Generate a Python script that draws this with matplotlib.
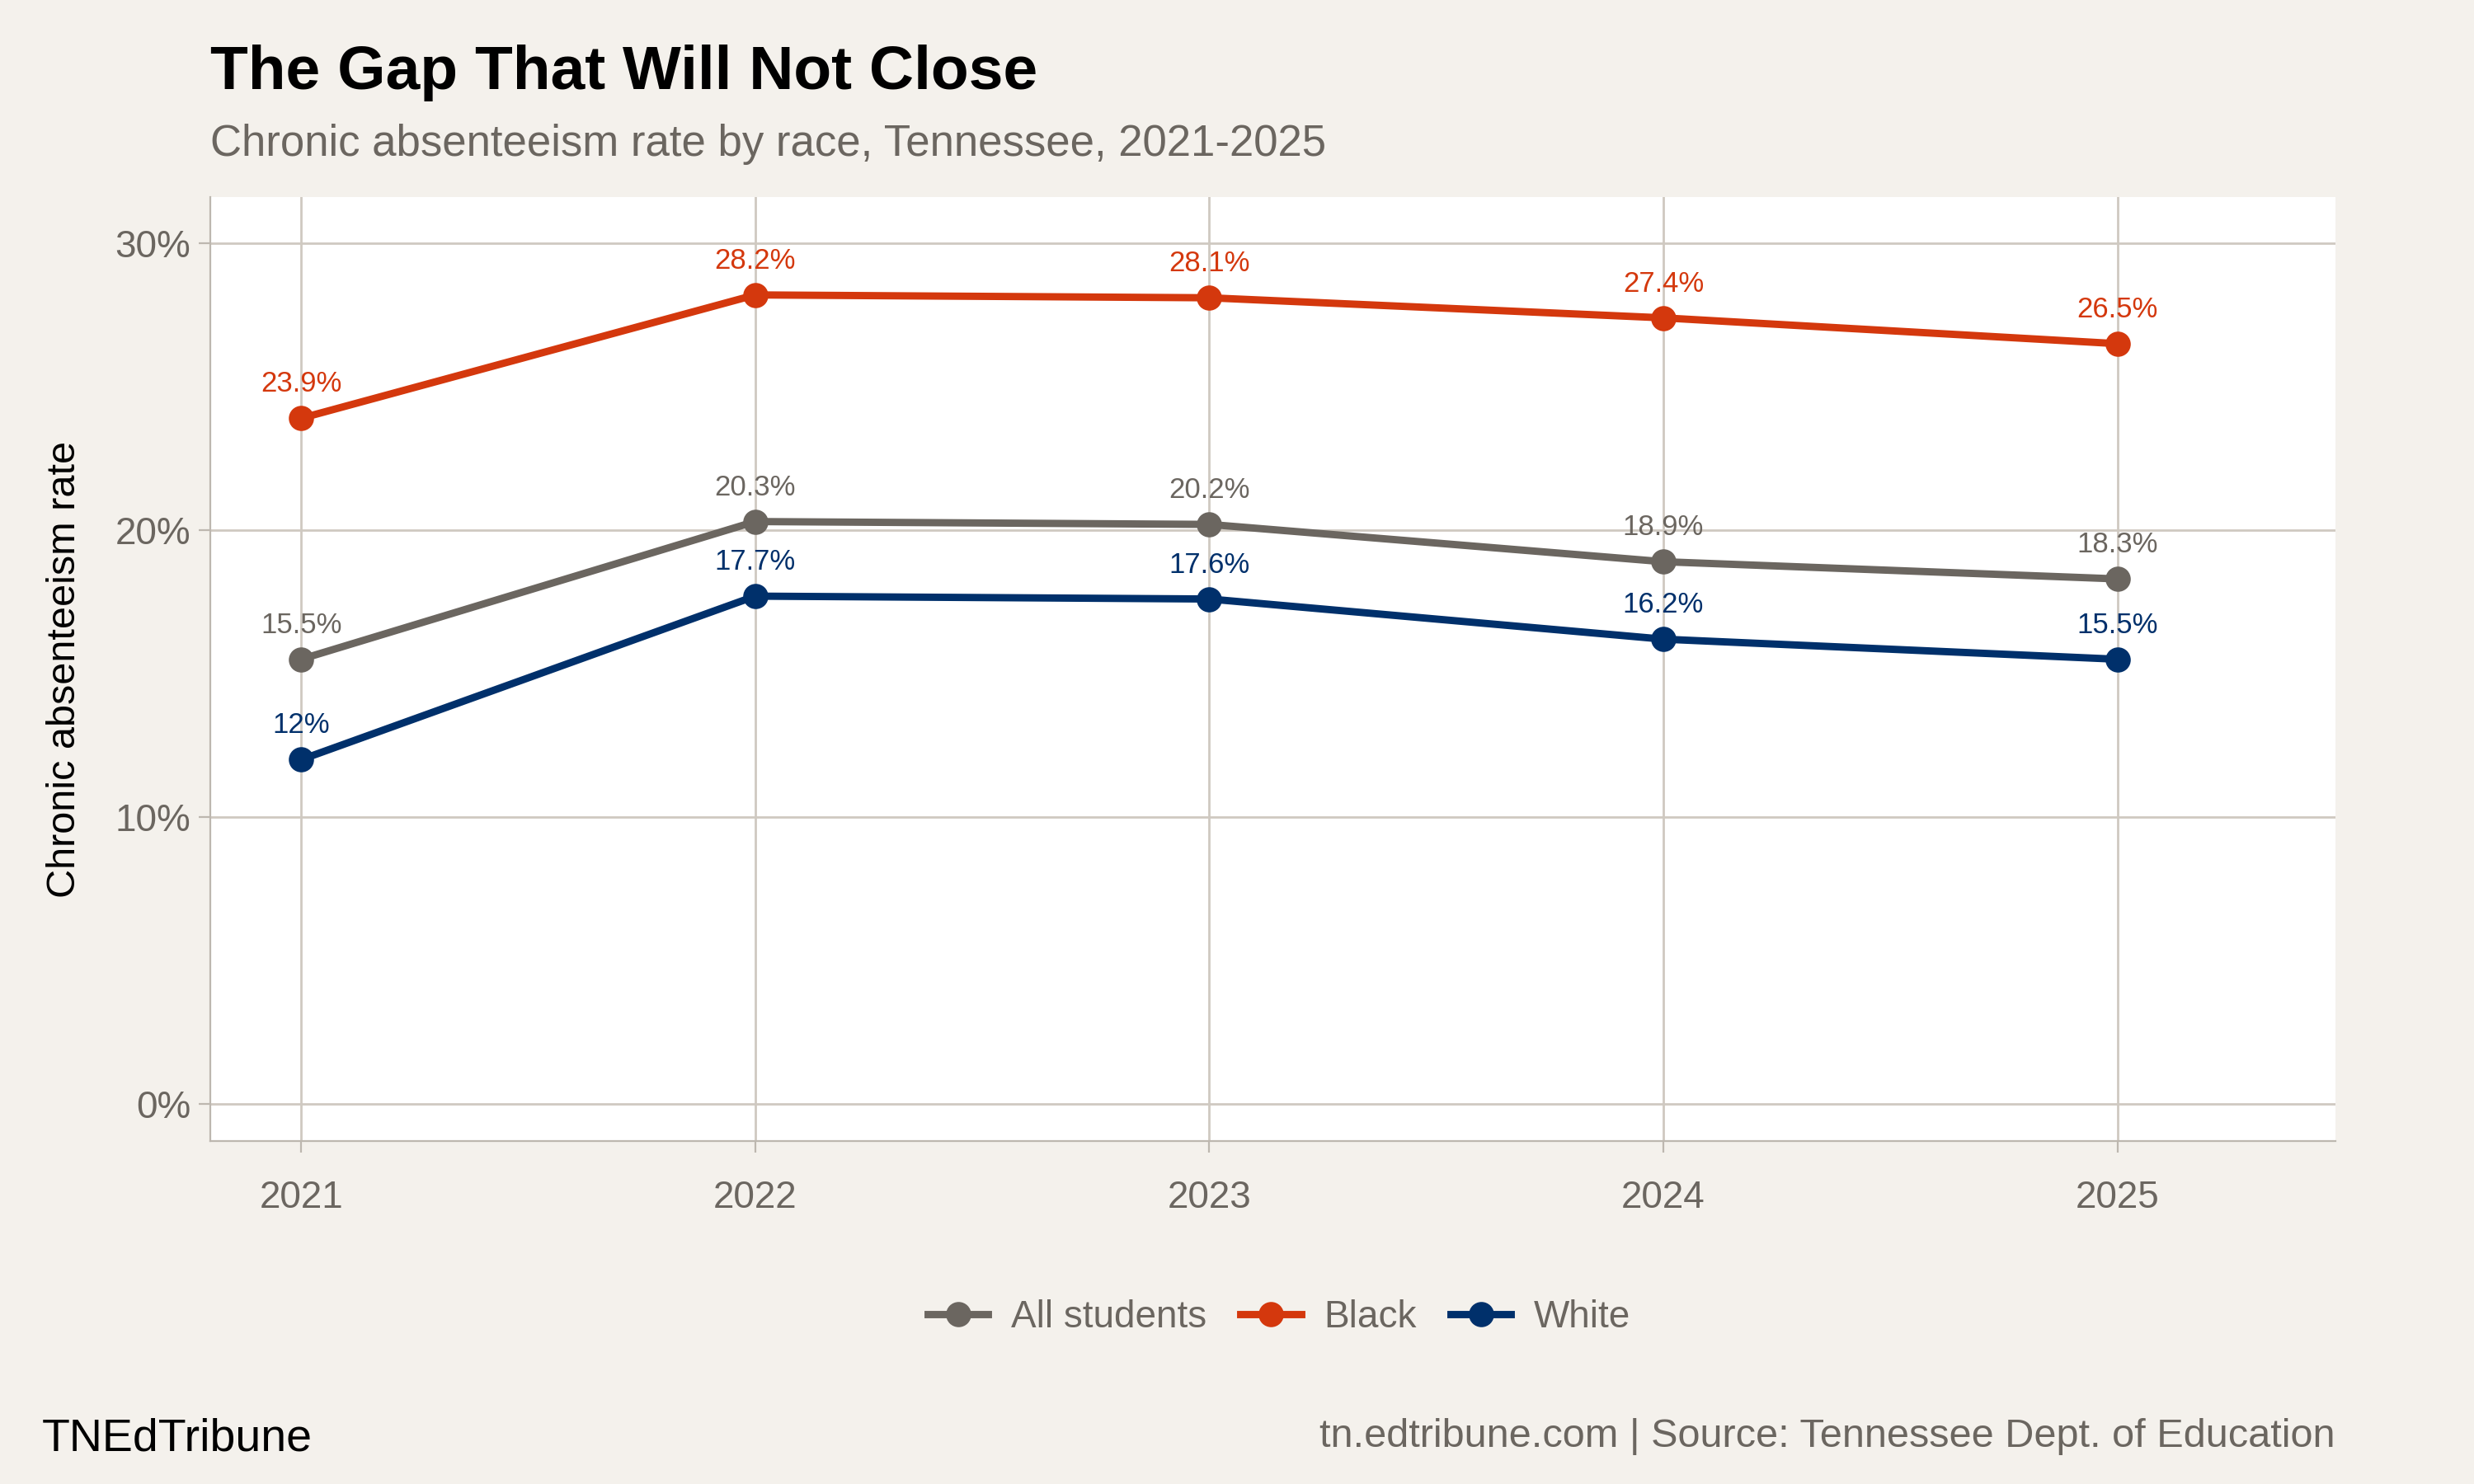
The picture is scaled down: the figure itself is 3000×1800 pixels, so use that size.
import matplotlib.pyplot as plt
from matplotlib.ticker import FuncFormatter

plt.rcParams['font.family'] = ['Liberation Sans', 'DejaVu Sans']

years = [2021, 2022, 2023, 2024, 2025]
all_students = [15.5, 20.3, 20.2, 18.9, 18.3]
black = [23.9, 28.2, 28.1, 27.4, 26.5]
white = [12.0, 17.7, 17.6, 16.2, 15.5]
labels_all = ['15.5%', '20.3%', '20.2%', '18.9%', '18.3%']
labels_black = ['23.9%', '28.2%', '28.1%', '27.4%', '26.5%']
labels_white = ['12%', '17.7%', '17.6%', '16.2%', '15.5%']

bg = '#F4F1EC'
grid_c = '#CFC9C1'
fig = plt.figure(figsize=(15, 9), dpi=200, facecolor=bg)
ax = fig.add_axes([0.085, 0.231, 0.859, 0.636])
ax.set_facecolor('white')

series = [
    ('All students', all_students, labels_all, '#6B6660'),
    ('Black', black, labels_black, '#D4380D'),
    ('White', white, labels_white, '#00306B'),
]
for name, vals, labs, col in series:
    ax.plot(years, vals, color=col, lw=3.2, marker='o', ms=10, label=name, zorder=3)
    for x, y, t in zip(years, vals, labs):
        ax.annotate(t, (x, y), xytext=(0, 9), textcoords='offset points',
                    ha='center', va='bottom', color=col, fontsize=12.5)

ax.set_xlim(2020.80, 2025.48)
ax.set_ylim(-1.3, 31.6)
ax.set_xticks(years)
ax.set_yticks([0, 10, 20, 30])
ax.yaxis.set_major_formatter(FuncFormatter(lambda v, p: f'{v:.0f}%'))
ax.grid(True, color=grid_c, lw=1)
ax.set_axisbelow(True)
for s in ['top', 'right']:
    ax.spines[s].set_visible(False)
for s in ['left', 'bottom']:
    ax.spines[s].set_color('#BDB7AF')
ax.tick_params(axis='both', colors='#BDB7AF', labelcolor='#6B6660', labelsize=16.5, length=5)
ax.tick_params(axis='x', pad=12)
ax.set_ylabel('Chronic absenteeism rate', fontsize=17.5, color='black', labelpad=14)

fig.text(0.085, 0.951, 'The Gap That Will Not Close', fontsize=27, fontweight='bold', va='center')
fig.text(0.085, 0.903, 'Chronic absenteeism rate by race, Tennessee, 2021-2025', fontsize=19,
         color='#6B6660', va='center')
leg = fig.legend(loc='center', bbox_to_anchor=(0.517, 0.112), ncol=3, frameon=False,
                 fontsize=16.5, handlelength=1.6, columnspacing=0.9, handletextpad=0.6)
for t in leg.get_texts():
    t.set_color('#6B6660')
fig.text(0.017, 0.03, 'TNEdTribune', fontsize=20, va='center')
fig.text(0.944, 0.032, 'tn.edtribune.com | Source: Tennessee Dept. of Education', fontsize=17.5,
         color='#6B6660', ha='right', va='center')

fig.savefig('out.png', dpi=200, facecolor=bg)
